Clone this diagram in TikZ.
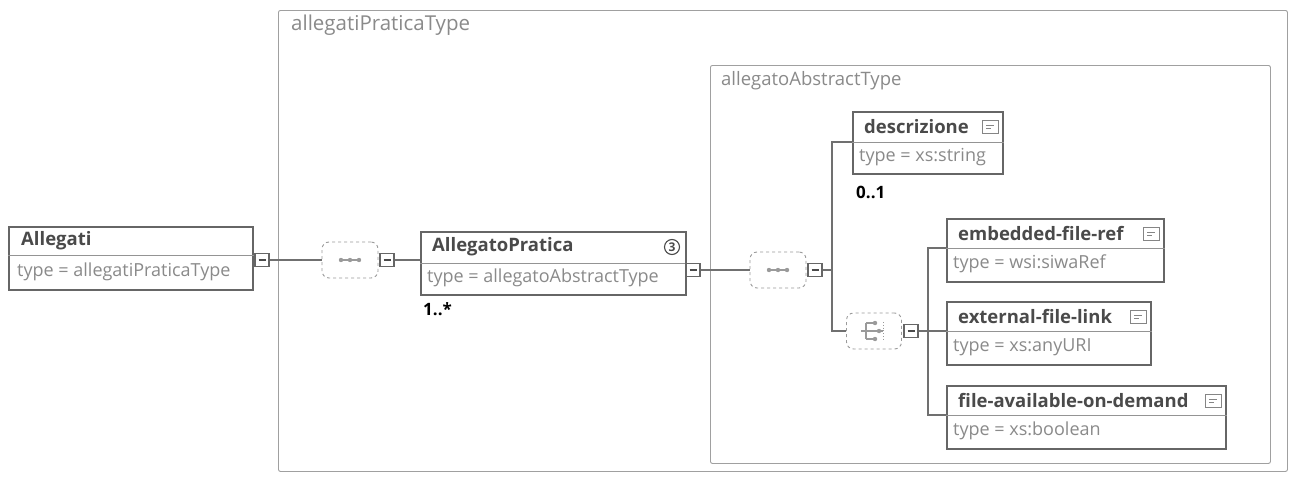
\documentclass[tikz,border=0pt]{standalone}
\usepackage{fontspec}
\setmainfont{Open Sans}
\usetikzlibrary{calc}

\definecolor{boxc}{HTML}{666666}
\definecolor{namec}{HTML}{4A4A4A}
\definecolor{typec}{HTML}{8A8A8A}
\definecolor{connc}{HTML}{707070}
\definecolor{framec}{HTML}{A0A0A0}
\definecolor{compc}{HTML}{9A9A9A}

\tikzset{
  frame/.style={draw=framec, line width=0.9pt, rounded corners=2pt, inner sep=0pt},
  frametitle/.style={anchor=west, inner sep=0pt, text=typec, font=\fontsize{19}{22}\selectfont},
  elembox/.style={draw=boxc, line width=2pt, fill=white, inner sep=0pt, anchor=north west},
  divline/.style={draw=boxc!70, line width=1pt},
  elemname/.style={anchor=west, inner sep=0pt, text=namec, font=\fontsize{18.5}{22}\selectfont\bfseries},
  elemtype/.style={anchor=west, inner sep=0pt, text=typec, font=\fontsize{18}{22}\selectfont},
  occurs/.style={anchor=west, inner sep=0pt, text=black, font=\fontsize{17}{20}\selectfont\bfseries},
  toggle/.style={draw=boxc, line width=1.5pt, fill=white, minimum width=14pt, minimum height=13pt, inner sep=0pt,
    path picture={\draw[line width=2pt, namec]
      ([xshift=-3.5pt]path picture bounding box.center) --
      ([xshift=3.5pt]path picture bounding box.center);}},
  compositor/.style={draw=compc, dashed, line width=0.9pt, rounded corners=7pt,
    minimum width=56pt, minimum height=36pt, inner sep=0pt, fill=white},
  conn/.style={draw=connc, line width=2pt},
  iconline/.style={draw=compc, line width=1.1pt},
  docicon/.style={draw=boxc!80, line width=1pt, minimum width=16pt, minimum height=13pt,
    inner sep=0pt, fill=white,
    path picture={\draw[boxc!80, line width=0.8pt]
      ([xshift=-4pt,yshift=1.5pt]path picture bounding box.center) -- ([xshift=4pt,yshift=1.5pt]path picture bounding box.center)
      ([xshift=-4pt,yshift=-1.5pt]path picture bounding box.center) -- ([xshift=1pt,yshift=-1.5pt]path picture bounding box.center);}},
  countbadge/.style={circle, draw=namec, line width=1.1pt, minimum size=15pt, inner sep=0pt,
    text=namec, font=\fontsize{12}{12}\selectfont\bfseries}
}

\begin{document}
\begin{tikzpicture}[x=1pt, y=-1pt]
  \useasboundingbox[fill=white] (0,0) rectangle (1293,482);

  % nested type containers
  \node[frame, anchor=north west, minimum width=1009pt, minimum height=461pt] (outer) at (278,10) {};
  \node[frametitle, font=\fontsize{20.5}{24}\selectfont] (outer-title) at ($(outer.north west)+(13,15)$) {allegatiPraticaType};
  \node[frame, anchor=north west, minimum width=560pt, minimum height=398pt] (inner) at (710,65) {};
  \node[frametitle, font=\fontsize{18.5}{22}\selectfont] (inner-title) at ($(inner.north west)+(11,16)$) {allegatoAbstractType};

  % root element
  \node[elembox, minimum width=244pt, minimum height=63pt] (allegati) at (8,226) {};
  \draw[divline] ($(allegati.north west)+(0,29)$) -- ($(allegati.north east)+(0,29)$);
  \node[elemname] (allegati-name) at ($(allegati.north west)+(13,14.5)$) {Allegati};
  \node[elemtype] (allegati-type) at ($(allegati.north west)+(9,46)$) {type = allegatiPraticaType};
  \node[toggle] (allegati-tg) at (262,260) {};

  % first sequence
  \node[compositor] (seq1) at (350,260) {};
  \draw[iconline] ($(seq1.center)+(-9,0)$) -- ($(seq1.center)+(9,0)$);
  \foreach \dx in {-9,0,9} \fill[compc] ($(seq1.center)+(\dx,0)$) circle (2.2pt);
  \node[toggle] (seq1-tg) at (387,260) {};

  % AllegatoPratica
  \node[elembox, minimum width=265pt, minimum height=63pt] (ap) at (420,231) {};
  \draw[divline] ($(ap.north west)+(0,32)$) -- ($(ap.north east)+(0,32)$);
  \node[elemname] (ap-name) at ($(ap.north west)+(12,16)$) {AllegatoPratica};
  \node[elemtype] (ap-type) at ($(ap.north west)+(7,47)$) {type = allegatoAbstractType};
  \node[countbadge] (ap-count) at ($(ap.north east)+(-15,16)$) {3};
  \node[occurs] (ap-occ) at ($(ap.south west)+(3,13)$) {1..*};
  \node[toggle] (ap-tg) at (693,270) {};

  % second sequence
  \node[compositor] (seq2) at (778,270) {};
  \draw[iconline] ($(seq2.center)+(-9,0)$) -- ($(seq2.center)+(9,0)$);
  \foreach \dx in {-9,0,9} \fill[compc] ($(seq2.center)+(\dx,0)$) circle (2.2pt);
  \node[toggle] (seq2-tg) at (815,270) {};
  \coordinate (j1) at (832,270);

  % descrizione
  \node[elembox, minimum width=150pt, minimum height=62pt] (desc) at (852,111) {};
  \coordinate (desc-d) at ($(desc.north west)+(0,31)$);
  \draw[divline] (desc-d) -- ($(desc.north east)+(0,31)$);
  \node[elemname] (desc-name) at ($(desc.north west)+(12,16)$) {descrizione};
  \node[elemtype] (desc-type) at ($(desc.north west)+(7,46)$) {type = xs:string};
  \node[docicon] (desc-doc) at ($(desc.north east)+(-14,16)$) {};
  \node[occurs] (desc-occ) at ($(desc.south west)+(4,17)$) {0..1};

  % choice
  \node[compositor, minimum width=55pt] (choice) at (874,331) {};
  \draw[iconline] ($(choice.center)+(-13,0)$) -- ($(choice.center)+(-8,0)$)
    ($(choice.center)+(-8,-8)$) -- ($(choice.center)+(-8,8)$)
    ($(choice.center)+(-8,-8)$) -- ($(choice.center)+(1,-8)$)
    ($(choice.center)+(-8,0)$) -- ($(choice.center)+(9,0)$)
    ($(choice.center)+(-8,8)$) -- ($(choice.center)+(1,8)$);
  \draw[compc, line width=0.8pt, dotted] ($(choice.center)+(9,-9)$) -- ($(choice.center)+(9,9)$);
  \foreach \dx/\dy in {1/-8, 5/0, 1/8} \fill[compc] ($(choice.center)+(\dx,\dy)$) circle (2.2pt);
  \node[toggle] (choice-tg) at (911,331) {};
  \coordinate (j2) at (928,331);

  % choice members
  \node[elembox, minimum width=217pt, minimum height=63pt] (emb) at (946,218) {};
  \coordinate (emb-d) at ($(emb.north west)+(0,30)$);
  \draw[divline] (emb-d) -- ($(emb.north east)+(0,30)$);
  \node[elemname] (emb-name) at ($(emb.north west)+(12,16)$) {embedded-file-ref};
  \node[elemtype] (emb-type) at ($(emb.north west)+(7,46)$) {type = wsi:siwaRef};
  \node[docicon] (emb-doc) at ($(emb.north east)+(-14,16)$) {};

  \node[elembox, minimum width=204pt, minimum height=63pt] (ext) at (946,301) {};
  \coordinate (ext-d) at ($(ext.north west)+(0,30)$);
  \draw[divline] (ext-d) -- ($(ext.north east)+(0,30)$);
  \node[elemname] (ext-name) at ($(ext.north west)+(12,16)$) {external-file-link};
  \node[elemtype] (ext-type) at ($(ext.north west)+(7,46)$) {type = xs:anyURI};
  \node[docicon] (ext-doc) at ($(ext.north east)+(-14,16)$) {};

  \node[elembox, minimum width=279pt, minimum height=63pt] (fad) at (946,385) {};
  \coordinate (fad-d) at ($(fad.north west)+(0,30)$);
  \draw[divline] (fad-d) -- ($(fad.north east)+(0,30)$);
  \node[elemname] (fad-name) at ($(fad.north west)+(12,16)$) {file-available-on-demand};
  \node[elemtype] (fad-type) at ($(fad.north west)+(7,46)$) {type = xs:boolean};
  \node[docicon] (fad-doc) at ($(fad.north east)+(-14,16)$) {};

  % connectors
  \draw[conn] (allegati-tg.east) -- (seq1.west);
  \draw[conn] (seq1-tg.east) -- (ap.west |- seq1-tg);
  \draw[conn] (ap-tg.east) -- (seq2.west);
  \draw[conn] (seq2-tg.east) -- (j1);
  \draw[conn] (j1) |- (desc-d);
  \draw[conn] (j1) |- (choice.west);
  \draw[conn] (choice-tg.east) -- (j2);
  \draw[conn] (j2) |- (emb-d);
  \draw[conn] (j2) -- (ext-d);
  \draw[conn] (j2) |- (fad-d);
\end{tikzpicture}
\end{document}
